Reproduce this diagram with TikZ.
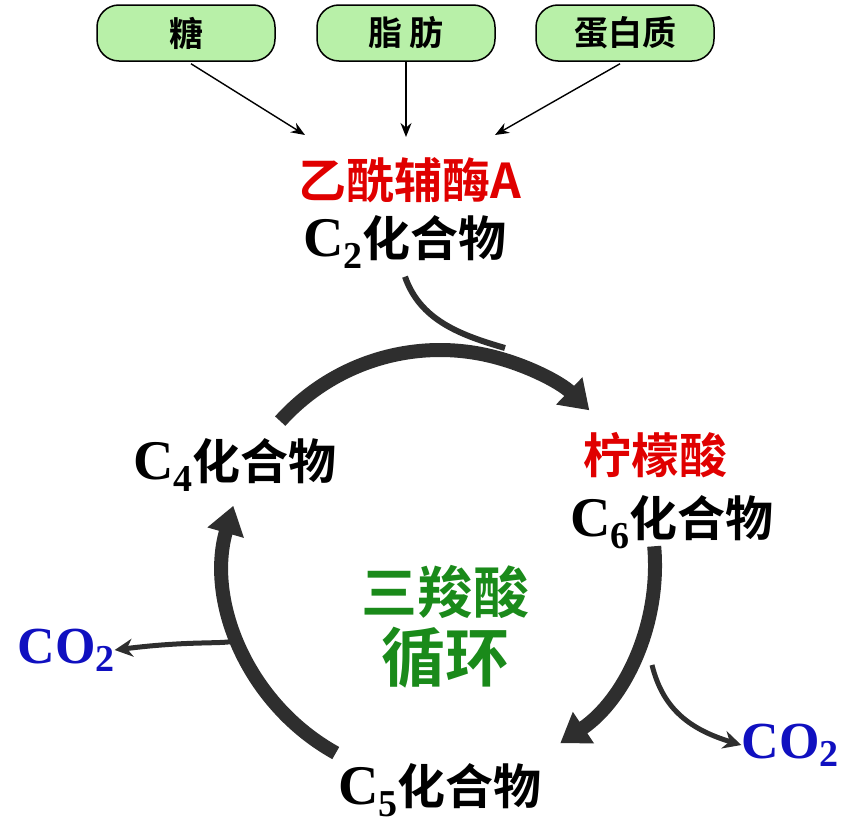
\documentclass[tikz,border=0pt]{standalone}
\usepackage{fontspec}
\setmainfont{Liberation Serif}
\newfontfamily\cjk{Noto Sans CJK SC}[BoldFont={* Bold}]
\usetikzlibrary{arrows.meta}
\definecolor{boxgreen}{HTML}{B8F0A8}
\definecolor{tgreen}{HTML}{1A8A1A}
\definecolor{cored}{HTML}{E00000}
\definecolor{coblue}{HTML}{1010C0}
\definecolor{arcgray}{HTML}{2E2E2E}
\tikzset{
 food/.style={draw=black,line width=1.5pt,fill=boxgreen,rounded corners=22pt,minimum width=178pt,minimum height=56pt,font=\cjk\bfseries\fontsize{34}{34}\selectfont},
 thin/.style={-{Stealth[length=14pt,width=11pt]},line width=1.4pt},
 thick/.style={arcgray,line width=14pt,-{Triangle[length=28pt,width=36pt]}},
 branch/.style={arcgray,line width=5pt,-{Stealth[length=18pt,width=18pt]}},
 lbl/.style={font=\cjk\bfseries\fontsize{48}{48}\selectfont,inner sep=0pt},
 co/.style={font=\bfseries\fontsize{52}{52}\selectfont,text=coblue,inner sep=0pt},
}
\newcommand{\Cn}[1]{{\normalfont\bfseries\fontsize{56}{56}\selectfont C\raisebox{-12pt}{\fontsize{38}{38}\selectfont #1}}}
\newcommand{\COtwo}{CO\raisebox{-8pt}{\fontsize{38}{38}\selectfont 2}}
\begin{document}
\begin{tikzpicture}[x=1pt,y=-1pt]
\useasboundingbox (0,0) rectangle (864,835);
\node[food] (tang) at (186,33) {糖};
\node[food] (zhi) at (406,33) {脂 肪};
\node[food] (dan) at (625,33) {蛋白质};
\node[lbl,text=cored] (acoa) at (410,180) {乙酰辅酶A};
\node[lbl] (c2) at (405,242) {\Cn{2}化合物};
\draw[thin] (tang.south) ++(5,2) -- (305,135);
\draw[thin] (zhi.south) -- (406,137);
\draw[thin] (dan.south) ++(-5,2) -- (495,135);
\coordinate (c) at (440,565);
\draw[arcgray,line width=6pt] (c2.south) ++(0,8) .. controls (420,320) and (460,335) .. (505,348);
\draw[thick] (c) ++(-138:215) arc[start angle=-138,end angle=-46,radius=215];
\draw[thick] (c) ++(-5:215) arc[start angle=-5,end angle=56,radius=215];
\draw[thick] (c) ++(119:215) arc[start angle=119,end angle=196,radius=215];
\coordinate (lb) at (238,640);
\coordinate (rb) at (652,665);
\node[co] (co2l) at (66,650) {\COtwo};
\node[co] (co2r) at (790,745) {\COtwo};
\draw[branch] (lb) .. controls (225,645) and (195,640) .. (co2l.east);
\draw[branch] (rb) .. controls (662,705) and (685,728) .. (co2r.west);
\node[lbl] (c4) at (235,465) {\Cn{4}化合物};
\node[lbl,text=cored] (cit) at (655,455) {柠檬酸};
\node[lbl] (c6) at (672,522) {\Cn{6}化合物};
\node[lbl] (c5) at (440,790) {\Cn{5}化合物};
\node[lbl,text=tgreen,font=\cjk\bfseries\fontsize{56}{56}\selectfont] (tca1) at (445,592) {三羧酸};
\node[lbl,text=tgreen,font=\cjk\bfseries\fontsize{64}{64}\selectfont] (tca2) at (445,658) {循环};
\end{tikzpicture}
\end{document}
